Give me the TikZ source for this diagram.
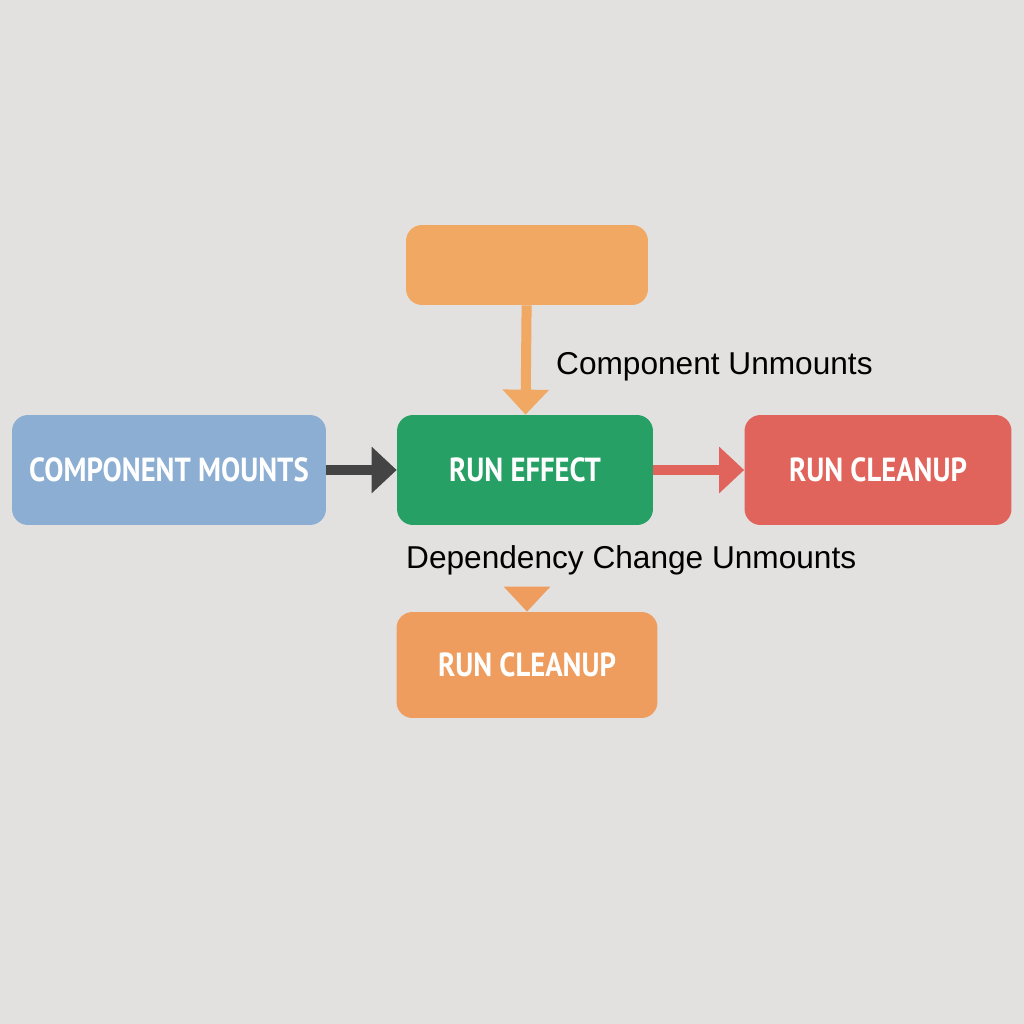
\documentclass[tikz,border=0pt]{standalone}
\usepackage{fontspec}
\setmainfont{Liberation Sans}
\newfontfamily\stagefont{PT Sans}[FakeStretch=0.86]
\usetikzlibrary{positioning,arrows.meta}
\definecolor{bgcol}{HTML}{E2E1E0}
\definecolor{mountcol}{HTML}{8CAED2}
\definecolor{effectcol}{HTML}{27A065}
\definecolor{cleancol}{HTML}{E0645C}
\definecolor{topcol}{HTML}{F0A862}
\definecolor{depcol}{HTML}{EE9D5E}
\definecolor{darkcol}{HTML}{444444}
\begin{document}
\begin{tikzpicture}[x=0.02cm, y=-0.02cm,
    stage/.style={rectangle, rounded corners=3.2mm, text=white,
        font=\stagefont\fontsize{19}{22}\selectfont\bfseries, inner sep=0pt},
    flow/.style={draw, line width=2mm, -{Triangle[length=5mm, width=9mm]}},
    note/.style={font=\fontsize{18}{22}\selectfont, text=black, anchor=west}
]
\fill[bgcol] (0,0) rectangle (1024,1024);
\node (Top) [stage, fill=topcol, minimum width=4.84cm, minimum height=1.6cm] at (527,265) {};
\node (Mounts) [stage, fill=mountcol, minimum width=6.28cm, minimum height=2.2cm] at (169,470) {COMPONENT MOUNTS};
\node (Effect) [stage, fill=effectcol, minimum width=5.12cm, minimum height=2.2cm] at (525,470) {RUN EFFECT};
\node (Cleanup) [stage, fill=cleancol, minimum width=5.34cm, minimum height=2.2cm] at (878,470) {RUN CLEANUP};
\node (DepCleanup) [stage, fill=depcol, minimum width=5.22cm, minimum height=2.12cm] at (527,665) {RUN CLEANUP};

\node (Unmounts) [note] at (550,367) {Component Unmounts};
\node (DepChange) [note, inner ysep=0.3cm] at (400,560) {Dependency Change Unmounts};

\draw[flow, topcol] (Top) -- (Effect);
\draw[flow, darkcol] (Mounts) -- (Effect);
\draw[flow, cleancol] (Effect) -- (Cleanup);
\draw[flow, depcol] (DepChange.south -| DepCleanup) -- (DepCleanup);
\end{tikzpicture}
\end{document}
